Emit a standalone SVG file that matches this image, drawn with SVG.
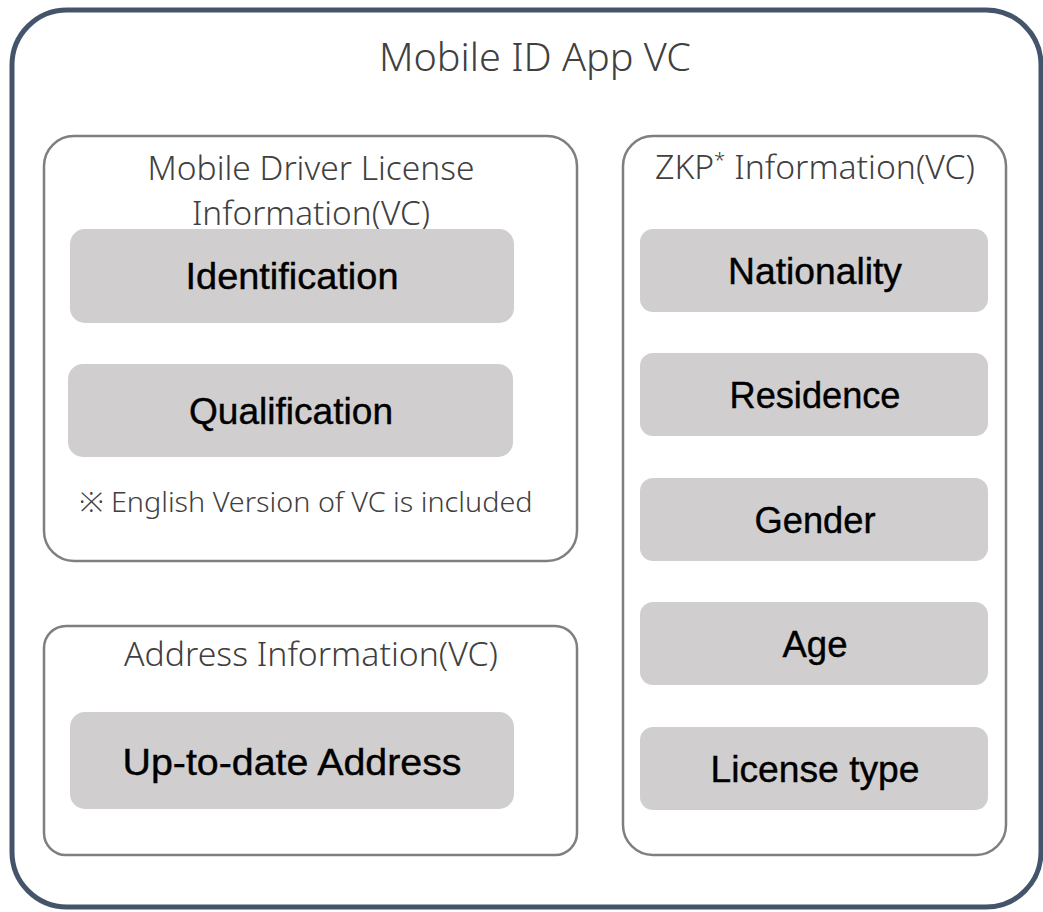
<svg xmlns="http://www.w3.org/2000/svg" width="1043" height="912" viewBox="0 0 1043 912">
<style>
.outer{fill:#fff;stroke:#44546a;stroke-width:5}
.group{fill:#fff;stroke:#7f7f7f;stroke-width:2.5}
.item{fill:#d0cece;stroke:none}
.ttl{font-family:"Noto Sans","Liberation Sans",sans-serif;font-weight:300;fill:#404040;text-anchor:middle}
.lbl{font-family:"Liberation Sans","Noto Sans",sans-serif;font-weight:400;fill:#000;text-anchor:middle;font-size:37px;stroke:#000;stroke-width:0.4}
</style>
<rect width="1043" height="912" fill="#fff"/>
<g id="mobile-id-app">
<rect class="outer" x="12" y="10" width="1029" height="897" rx="55"/>
<text class="ttl" x="535" y="71" font-size="38" textLength="312" lengthAdjust="spacingAndGlyphs">Mobile ID App VC</text>
</g>
<g id="mdl">
<rect class="group" x="44" y="136" width="533" height="425" rx="30"/>
<text class="ttl" x="311" y="180" font-size="33" textLength="327" lengthAdjust="spacingAndGlyphs">Mobile Driver License</text>
<text class="ttl" x="311" y="225" font-size="33" textLength="238" lengthAdjust="spacingAndGlyphs">Information(VC)</text>
<text class="ttl" x="306" y="512" font-size="28" textLength="453" lengthAdjust="spacingAndGlyphs">※ English Version of VC is included</text>
</g>
<g id="identification">
<rect class="item" x="70" y="229" width="444" height="94" rx="15"/>
<text class="lbl" x="292" y="289" textLength="213" lengthAdjust="spacingAndGlyphs">Identification</text>
</g>
<g id="qualification">
<rect class="item" x="68" y="364" width="445" height="93" rx="15"/>
<text class="lbl" x="291" y="424" textLength="204" lengthAdjust="spacingAndGlyphs">Qualification</text>
</g>
<g id="address">
<rect class="group" x="44" y="626" width="533" height="229" rx="22"/>
<text class="ttl" x="311" y="666" font-size="33" textLength="374" lengthAdjust="spacingAndGlyphs">Address Information(VC)</text>
</g>
<g id="uptodate">
<rect class="item" x="70" y="712" width="444" height="97" rx="15"/>
<text class="lbl" x="292" y="775" textLength="339" lengthAdjust="spacingAndGlyphs">Up-to-date Address</text>
</g>
<g id="zkp">
<rect class="group" x="623" y="136" width="383" height="719" rx="30"/>
<text class="ttl" x="815" y="179" font-size="33" textLength="320" lengthAdjust="spacingAndGlyphs">ZKP<tspan font-size="20" dy="-12">*</tspan><tspan dy="12"> Information(VC)</tspan></text>
</g>
<g id="nationality">
<rect class="item" x="640" y="229" width="348" height="83" rx="13"/>
<text class="lbl" x="815" y="284" textLength="174" lengthAdjust="spacingAndGlyphs">Nationality</text>
</g>
<g id="residence">
<rect class="item" x="640" y="353" width="348" height="83" rx="13"/>
<text class="lbl" x="815" y="408" textLength="171" lengthAdjust="spacingAndGlyphs">Residence</text>
</g>
<g id="gender">
<rect class="item" x="640" y="478" width="348" height="83" rx="13"/>
<text class="lbl" x="815" y="533" textLength="121" lengthAdjust="spacingAndGlyphs">Gender</text>
</g>
<g id="age">
<rect class="item" x="640" y="602" width="348" height="83" rx="13"/>
<text class="lbl" x="815" y="657" textLength="65" lengthAdjust="spacingAndGlyphs">Age</text>
</g>
<g id="license-type">
<rect class="item" x="640" y="727" width="348" height="83" rx="13"/>
<text class="lbl" x="815" y="782" textLength="209" lengthAdjust="spacingAndGlyphs">License type</text>
</g>
<g id="connectors"/>
</svg>
